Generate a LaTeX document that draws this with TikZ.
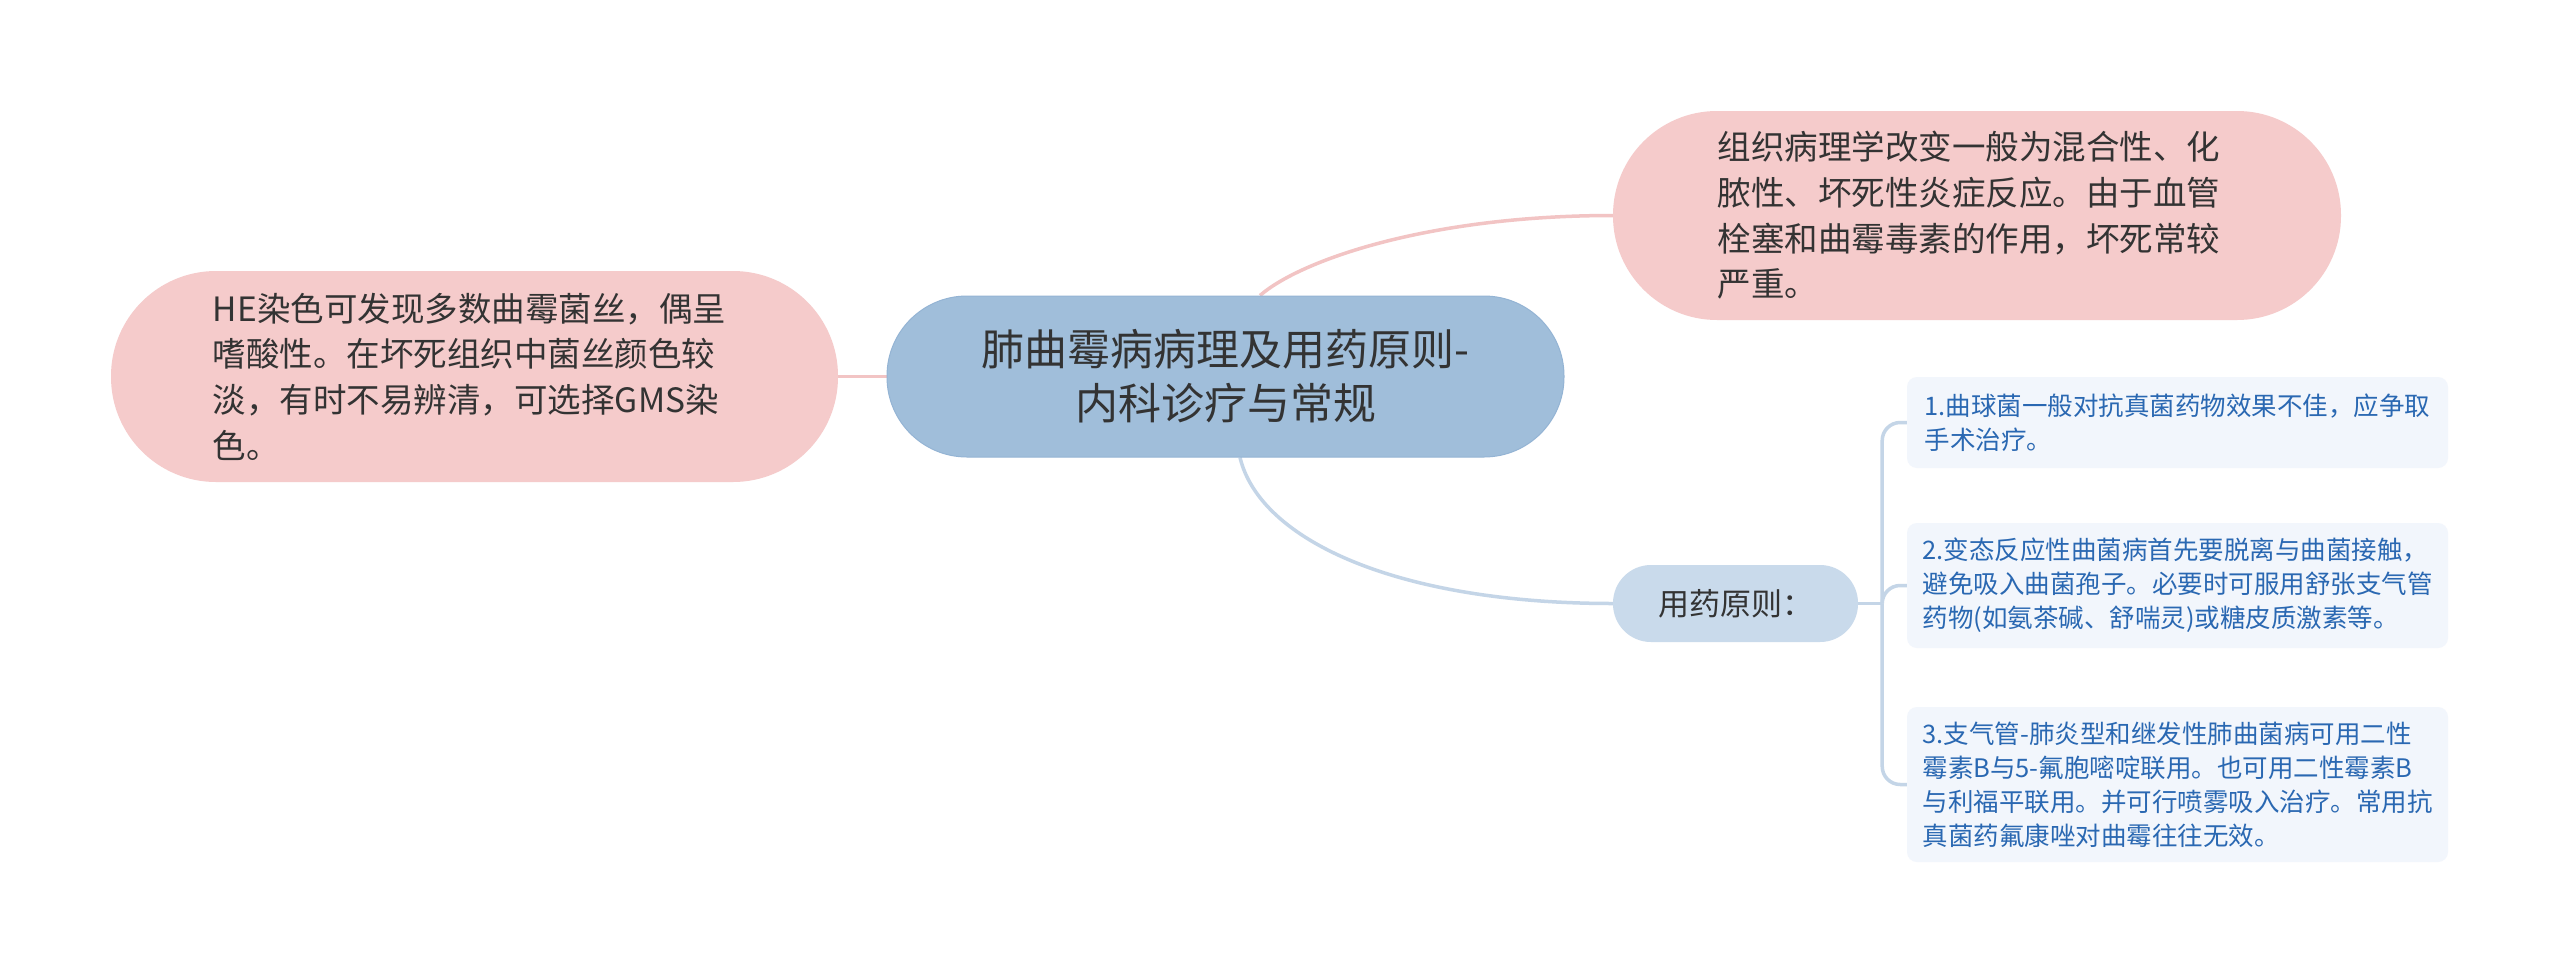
\documentclass[tikz,border=0pt]{standalone}
\usepackage{fontspec}
\setmainfont{Noto Sans CJK SC}
\usetikzlibrary{calc,backgrounds}
\definecolor{pinkfill}{HTML}{F5CBCB}
\definecolor{pinkline}{HTML}{F2C4C4}
\definecolor{rootfill}{HTML}{A0BEDA}
\definecolor{rootedge}{HTML}{94B4D4}
\definecolor{subfill}{HTML}{C9DAEB}
\definecolor{leaffill}{HTML}{F2F6FC}
\definecolor{leaftext}{HTML}{2A68B2}
\definecolor{blueline}{HTML}{C4D5E7}
\definecolor{darktext}{HTML}{333333}
\tikzset{
  rootbox/.style={fill=rootfill, draw=rootedge, line width=1pt, text=darktext, inner sep=0pt, align=center,
    font=\fontsize{43pt}{54pt}\selectfont},
  pinkbox/.style={fill=pinkfill, draw=none, text=darktext, inner sep=0pt, align=left,
    font=\fontsize{33.5pt}{45.7pt}\selectfont},
  subbox/.style={fill=subfill, draw=none, text=darktext, inner sep=0pt, align=center,
    font=\fontsize{31pt}{38pt}\selectfont},
  leafbox/.style={fill=leaffill, draw=none, text=leaftext, inner sep=0pt, align=left,
    minimum width=541pt, rounded corners=10pt, font=\fontsize{25.5pt}{34pt}\selectfont},
  pinkconn/.style={draw=pinkline, line width=3.5pt},
  blueconn/.style={draw=blueline, line width=3.5pt},
}
\begin{document}
\begin{tikzpicture}[x=1pt,y=-1pt]
\begin{scope}[on background layer]
\fill[white] (0,0) rectangle (2560,975);
\end{scope}
\useasboundingbox (0,0) rectangle (2560,975);

\node[rootbox, minimum width=677pt, minimum height=161pt, rounded corners=80pt] (root) at (1225.5,376.5)
  {肺曲霉病病理及用药原则-\\内科诊疗与常规};

\node[pinkbox, minimum width=728pt, minimum height=209pt, rounded corners=104pt] (r1) at (1977,215.5)
  {组织病理学改变一般为混合性、化\hspace*{16pt}\\脓性、坏死性炎症反应。由于血管\\栓塞和曲霉毒素的作用，坏死常较\\严重。};

\node[pinkbox, minimum width=727pt, minimum height=211pt, rounded corners=105pt] (l1) at (474.5,376.5)
  {HE染色可发现多数曲霉菌丝，偶呈\hspace*{10pt}\\嗜酸性。在坏死组织中菌丝颜色较\\淡，有时不易辨清，可选择GMS染\\色。};

\node[subbox, minimum width=245pt, minimum height=77pt, rounded corners=38pt] (use) at (1735.5,603.5)
  {用药原则：};

\node[leafbox, minimum height=91pt] (b1) at (2177.5,422.5)
  {1.曲球菌一般对抗真菌药物效果不佳，应争取\\手术治疗。};
\node[leafbox, minimum height=125pt] (b2) at (2177.5,585.5)
  {2.变态反应性曲菌病首先要脱离与曲菌接触，\\避免吸入曲菌孢子。必要时可服用舒张支气管\\药物(如氨茶碱、舒喘灵)或糖皮质激素等。};
\node[leafbox, minimum height=155pt] (b3) at (2177.5,784.5)
  {3.支气管-肺炎型和继发性肺曲菌病可用二性\\霉素B与5-氟胞嘧啶联用。也可用二性霉素B\\与利福平联用。并可行喷雾吸入治疗。常用抗\\真菌药氟康唑对曲霉往往无效。};

\begin{scope}[on background layer]
\draw[pinkconn] ($(root.north)+(34.5,0)$) .. controls +(40,-35) and +(-185,0) .. (r1.west);
\draw[pinkconn] (l1.east) -- (root.west);
\draw[blueconn] ($(root.south)+(14.5,0)$) .. controls +(20,83) and +(-215,0) .. (use.west);
\draw[blueconn] (use.east) -- ++(24,0) coordinate (j);
\draw[blueconn, rounded corners=18pt] (j) |- (b1.west);
\draw[blueconn, rounded corners=18pt] (j) |- (b2.west);
\draw[blueconn, rounded corners=18pt] (j) |- (b3.west);
\end{scope}
\end{tikzpicture}
\end{document}
